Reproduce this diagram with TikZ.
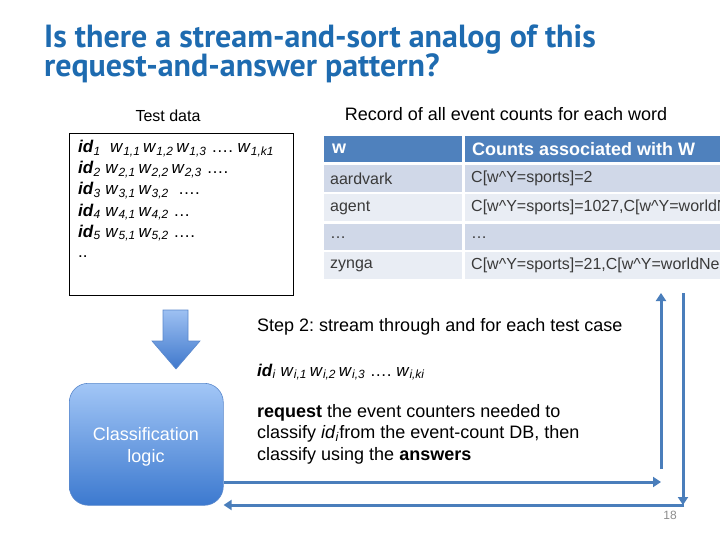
\documentclass[tikz,border=0pt]{standalone}
\usepackage{fontspec}
\setmainfont{Liberation Sans}
\newfontfamily\titlefont{PT Sans}
\usetikzlibrary{arrows.meta}
\definecolor{titleblue}{HTML}{1E6BB0}
\definecolor{hdrblue}{HTML}{4F81BD}
\definecolor{rowA}{HTML}{D0D8E8}
\definecolor{rowB}{HTML}{E9EDF4}
\definecolor{conncol}{HTML}{4A7EBB}
\definecolor{celltext}{HTML}{3A3A3A}
\definecolor{arrtop}{HTML}{9DC0F2}
\definecolor{arrbot}{HTML}{3F78CC}
\definecolor{boxtop}{HTML}{A2C6F6}
\definecolor{boxbot}{HTML}{3C79CF}
\definecolor{boxedge}{HTML}{5A88CC}
\definecolor{pggray}{HTML}{8C8C8C}
\frenchspacing
\newcommand\IDx[1]{\textbf{\textit{id}}\textsubscript{\textit{#1}}}
\newcommand\Wx[1]{\textit{w}\textsubscript{\textit{#1}}}
\tikzset{
  titletext/.style={anchor=base west,inner sep=0,text=titleblue,font=\titlefont\bfseries\fontsize{32}{36}\selectfont},
  plain/.style={anchor=base west,inner sep=0,font=\fontsize{18}{21}\selectfont},
  tdline/.style={anchor=base west,inner sep=0,font=\fontsize{17}{20}\selectfont},
  celltxt/.style={anchor=west,inner sep=0,text=celltext,font=\fontsize{16}{19}\selectfont},
  hdrtxt/.style={anchor=west,inner sep=0,text=white,font=\bfseries\fontsize{18}{21}\selectfont},
  cell/.style={anchor=north west,inner sep=0,draw=none},
  conn/.style={draw=conncol,line width=3pt,-{Triangle[length=8pt,width=10pt]}},
}
\begin{document}
\begin{tikzpicture}[x=1pt,y=-1pt]
\useasboundingbox (0,0) rectangle (720,540);
\begin{scope}
\clip (0,0) rectangle (720,540);
% title
\node[titletext] (t1) at (44,48) {Is there a stream-and-sort analog of this};
\node[titletext] (t2) at (44,77) {request-and-answer pattern?};

% test data
\node[anchor=base,inner sep=0,font=\fontsize{16}{19}\selectfont] (tdl) at (168,122) {Test data};
\node[cell,draw=black,line width=0.8pt,minimum width=224pt,minimum height=162pt] (tbox) at (69,133) {};
\node[tdline] (l1) at (78,153) {\IDx{1}\ \ \Wx{1,1}\,\Wx{1,2}\,\Wx{1,3} …. \Wx{1,k1}};
\node[tdline] (l2) at (78,174) {\IDx{2}\ \Wx{2,1}\,\Wx{2,2}\,\Wx{2,3} ….};
\node[tdline] (l3) at (78,195) {\IDx{3}\ \Wx{3,1}\,\Wx{3,2}\ \ ….};
\node[tdline] (l4) at (78,216) {\IDx{4}\ \Wx{4,1}\,\Wx{4,2} …};
\node[tdline] (l5) at (78,237) {\IDx{5}\ \Wx{5,1}\,\Wx{5,2} ….};
\node[tdline] (l6) at (78,258) {..};

% table
\node[anchor=base,inner sep=0,font=\fontsize{18}{21}\selectfont] (rec) at (506,121) {Record of all event counts for each word};
\node[cell,fill=hdrblue,minimum width=138pt,minimum height=26pt] (h1) at (324,136) {};
\node[cell,fill=hdrblue,minimum width=270pt,minimum height=26pt] (h2) at (465,136) {};
\node[cell,fill=rowA,minimum width=138pt,minimum height=27pt] (a1) at (324,165) {};
\node[cell,fill=rowA,minimum width=270pt,minimum height=27pt] (a2) at (465,165) {};
\node[cell,fill=rowB,minimum width=138pt,minimum height=27pt] (b1) at (324,194) {};
\node[cell,fill=rowB,minimum width=270pt,minimum height=27pt] (b2) at (465,194) {};
\node[cell,fill=rowA,minimum width=138pt,minimum height=26pt] (c1) at (324,224) {};
\node[cell,fill=rowA,minimum width=270pt,minimum height=26pt] (c2) at (465,224) {};
\node[cell,fill=rowB,minimum width=138pt,minimum height=27pt] (d1) at (324,252) {};
\node[cell,fill=rowB,minimum width=270pt,minimum height=27pt] (d2) at (465,252) {};
\node[hdrtxt] at ([xshift=8pt]h1.west) {w};
\node[hdrtxt] at ([xshift=7pt]h2.west) {Counts associated with W};
\node[celltxt] at ([xshift=6pt]a1.west) {aardvark};
\node[celltxt] at ([xshift=6pt]a2.west) {C[w\textasciicircum Y=sports]=2};
\node[celltxt] at ([xshift=6pt]b1.west) {agent};
\node[celltxt] at ([xshift=6pt]b2.west) {C[w\textasciicircum Y=sports]=1027,C[w\textasciicircum Y=worldN};
\node[celltxt] at ([xshift=6pt]c1.west) {…};
\node[celltxt] at ([xshift=6pt]c2.west) {…};
\node[celltxt] at ([xshift=6pt]d1.west) {zynga};
\node[celltxt] at ([xshift=6pt]d2.west) {C[w\textasciicircum Y=sports]=21,C[w\textasciicircum Y=worldNe};
\end{scope}

% down arrow
\shade[top color=arrtop, bottom color=arrbot, draw=boxedge, line width=0.6pt]
  (163,310) -- (188,310) -- (188,341) -- (200,341) -- (176,369) -- (152,341) -- (163,341) -- cycle;

% classification logic
\node[cell,rounded corners=19pt,minimum width=154pt,minimum height=122pt,
      top color=boxtop,bottom color=boxbot,draw=boxedge,line width=0.6pt] (cls) at (69,383) {};
\node[anchor=base,inner sep=0,text=white,font=\fontsize{18}{21}\selectfont] (cl1) at (146,440) {Classification};
\node[anchor=base,inner sep=0,text=white,font=\fontsize{18}{21}\selectfont] (cl2) at (146,462) {logic};

% step 2 text
\node[plain] (s1) at (257,331) {Step 2: stream through and for each test case};
\node[tdline] (s2) at (257,376) {\IDx{i}\ \Wx{i,1}\,\Wx{i,2}\,\Wx{i,3} …. \Wx{i,ki}};
\node[plain] (s3) at (257,417) {\textbf{request} the event counters needed to};
\node[plain] (s4) at (257,438) {classify \textit{id}\textsubscript{\textit{i}}from the event-count DB, then};
\node[plain] (s5) at (257,460) {classify using the \textbf{answers}};

% connectors
\coordinate (rtip) at (661,482);
\coordinate (u0) at (661,469);
\coordinate (u1) at (661,293);
\coordinate (v0) at (683,293);
\coordinate (v1) at (683,505);
\coordinate (btm) at (684,505);
\draw[conn] (cls.east |- rtip) -- (rtip);
\draw[conn] (u0) -- (u1);
\draw[conn] (v0) -- (v1);
\draw[conn] (btm) -- (cls.east |- btm);

\node[anchor=base,inner sep=0,text=pggray,font=\fontsize{12}{14}\selectfont] (pg) at (670,519) {18};
\end{tikzpicture}
\end{document}
